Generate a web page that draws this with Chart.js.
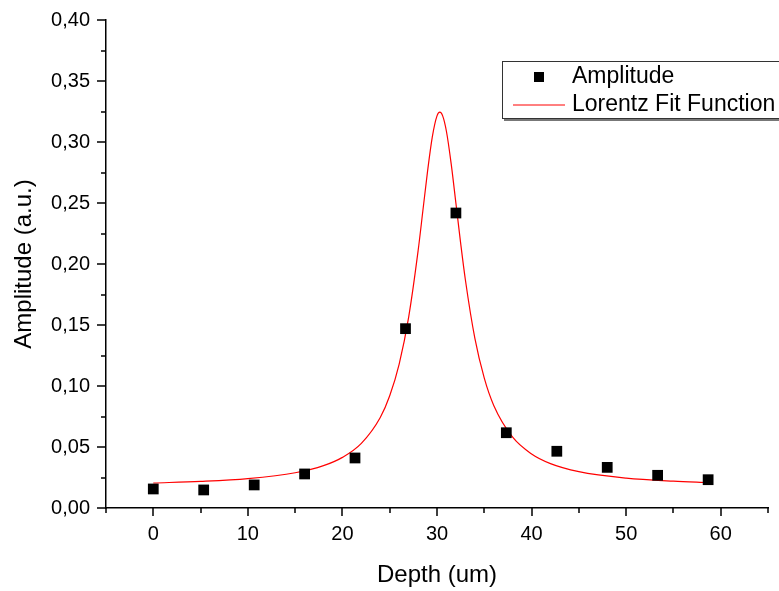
<!DOCTYPE html>
<html>
<head>
<meta charset="utf-8">
<script src="https://cdn.jsdelivr.net/npm/chart.js@4.4.1/dist/chart.umd.min.js"></script>
<style>
  html, body { margin: 0; padding: 0; background: #fff; }
  canvas { display: block; }
</style>
</head>
<body>
<canvas id="myChart" width="779" height="591"></canvas>
<script>
// measured points
const depth = [0, 5.33, 10.67, 16, 21.33, 26.67, 32, 37.33, 42.67, 48, 53.33, 58.67];
const amplitude = [0.0156, 0.0148, 0.0189, 0.0279, 0.0410, 0.1470, 0.2418, 0.0617, 0.0465, 0.0333, 0.0268, 0.0232];

// Lorentz fit curve
const fitDepth = [0, 5, 10, 15, 18, 20, 22, 24, 25, 26, 27, 28, 28.5, 29, 29.5, 30, 30.3,
                  30.6, 31, 31.5, 32, 32.5, 33, 34, 35, 36, 38, 40, 42, 45, 50, 55, 58.67];
const fitAmplitude = [0.0205, 0.0218, 0.0241, 0.0289, 0.0347, 0.0415, 0.0530, 0.0742, 0.0920,
                      0.1180, 0.1563, 0.2107, 0.2432, 0.2759, 0.3040, 0.3214, 0.3245,
                      0.3214, 0.3086, 0.2821, 0.2498, 0.2171, 0.1871, 0.1392, 0.1064, 0.0841,
                      0.0580, 0.0443, 0.0364, 0.0298, 0.0245, 0.0220, 0.0209];

const xMajor = [0, 10, 20, 30, 40, 50, 60];
const yMajor = [0, 0.05, 0.10, 0.15, 0.20, 0.25, 0.30, 0.35, 0.40];

Chart.defaults.font.family = '"Liberation Sans", Arial, sans-serif';
Chart.defaults.color = '#000';

const isMajor = (list, v) => list.some(m => Math.abs(m - v) < 1e-6);

// outward tick marks, long for majors, short for minors
const tickMarks = {
    id: 'tickMarks',
    afterDraw(chart) {
        const ctx = chart.ctx;
        const xs = chart.scales.x, ys = chart.scales.y;
        ctx.save();
        ctx.strokeStyle = '#000';
        ctx.lineWidth = 1.5;
        ctx.beginPath();
        xs.ticks.forEach(t => {
            const px = Math.round(xs.getPixelForValue(t.value));
            const len = isMajor(xMajor, t.value) ? 8 : 5;
            ctx.moveTo(px, xs.top);
            ctx.lineTo(px, xs.top + len);
        });
        ys.ticks.forEach(t => {
            const py = Math.round(ys.getPixelForValue(t.value));
            const len = isMajor(yMajor, t.value) ? 9 : 5;
            ctx.moveTo(ys.right, py);
            ctx.lineTo(ys.right - len, py);
        });
        ctx.stroke();
        ctx.restore();
    }
};

// boxed legend inside the plot, cut by the right edge
const boxLegend = {
    id: 'boxLegend',
    afterDraw(chart) {
        const ctx = chart.ctx;
        const ds = chart.data.datasets;
        ctx.save();
        ctx.fillStyle = '#777';
        ctx.fillRect(504, 119, 290, 2);
        ctx.fillStyle = '#fff';
        ctx.fillRect(502, 61, 290, 58);
        ctx.strokeStyle = '#333';
        ctx.lineWidth = 1;
        ctx.strokeRect(502.5, 61.5, 290, 57);

        ctx.fillStyle = '#000';
        ctx.fillRect(534, 72, 10, 10);
        ctx.strokeStyle = ds[1].borderColor;
        ctx.beginPath();
        ctx.moveTo(513, 105);
        ctx.lineTo(565, 105);
        ctx.stroke();

        ctx.font = '23px "Liberation Sans", Arial, sans-serif';
        ctx.textBaseline = 'middle';
        ctx.textAlign = 'left';
        ctx.fillStyle = '#000';
        ctx.fillText(ds[0].label, 572, 77);
        ctx.fillText(ds[1].label, 572, 105);
        ctx.restore();
    }
};

new Chart(document.getElementById('myChart'), {
    type: 'scatter',
    data: {
        datasets: [{
            label: 'Amplitude',
            data: depth.map((x, i) => ({ x: x, y: amplitude[i] })),
            pointStyle: 'rect',
            pointRadius: 7.6,
            pointBackgroundColor: '#000',
            pointBorderColor: '#000',
            pointBorderWidth: 0
        }, {
            label: 'Lorentz Fit Function',
            type: 'line',
            data: fitDepth.map((x, i) => ({ x: x, y: fitAmplitude[i] })),
            borderColor: '#ff0000',
            borderWidth: 1.2,
            pointRadius: 0,
            fill: false,
            cubicInterpolationMode: 'monotone'
        }]
    },
    options: {
        responsive: false,
        animation: false,
        layout: { padding: { top: 20, right: 11, left: 0, bottom: 0 } },
        plugins: {
            legend: { display: false },
            tooltip: { enabled: false }
        },
        scales: {
            x: {
                type: 'linear',
                min: -5,
                max: 65,
                afterFit: s => { s.height = 83; s.paddingLeft = 0; s.paddingRight = 0; },
                border: { display: true, color: '#000', width: 1.5 },
                grid: { display: false, drawTicks: false },
                ticks: {
                    stepSize: 5,
                    autoSkip: false,
                    maxRotation: 0,
                    padding: 14,
                    font: { size: 20 },
                    callback: v => isMajor(xMajor, v) ? String(v) : ''
                },
                title: {
                    display: true,
                    text: 'Depth (um)',
                    font: { size: 24 },
                    padding: { top: 0, bottom: 1 }
                }
            },
            y: {
                min: 0,
                max: 0.40,
                afterFit: s => { s.width = 106; s.paddingTop = 0; s.paddingBottom = 0; },
                border: { display: true, color: '#000', width: 1.5 },
                grid: { display: false, drawTicks: false },
                ticks: {
                    stepSize: 0.025,
                    autoSkip: false,
                    padding: 16,
                    font: { size: 20 },
                    callback: v => isMajor(yMajor, v) ? v.toFixed(2).replace('.', ',') : ''
                },
                title: {
                    display: true,
                    text: 'Amplitude (a.u.)',
                    font: { size: 24 },
                    padding: { top: 10, bottom: 0 }
                }
            }
        }
    },
    plugins: [tickMarks, boxLegend]
});
</script>
</body>
</html>
